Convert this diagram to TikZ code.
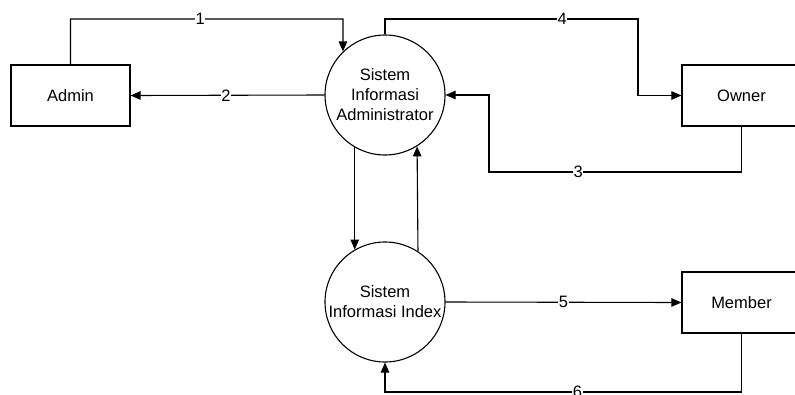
\documentclass[tikz,border=0pt]{standalone}
\usepackage{fontspec}
\setmainfont{Liberation Sans}
\usetikzlibrary{arrows.meta}
\begin{document}
\begin{tikzpicture}[x=1pt,y=-1pt,
  every node/.style={font=\fontsize{16.5}{20}\selectfont},
  ent/.style={draw, line width=1.2pt, minimum width=119pt, minimum height=61pt, inner sep=0pt},
  proc/.style={draw, circle, line width=1.1pt, minimum size=120pt, inner sep=0pt, align=center},
  flow/.style={line width=1.1pt, -{Triangle[length=10pt,width=8.5pt]}},
  lbl/.style={fill=white, inner sep=0.5pt}]
\useasboundingbox (0,0) rectangle (795,394);
\clip (0,0) rectangle (795,394);
% nodes
\node[ent] (admin) at (70.5,95.5) {Admin};
\node[ent] (owner) at (741.5,95.5) {Owner};
\node[ent] (member) at (741.5,302.5) {Member};
\node[proc] (sia) at (385,95) {Sistem\\Informasi\\Administrator};
\node[proc] (sii) at (385,302) {Sistem\\Informasi Index};
% helper coordinates
\coordinate (k1) at (343,19);
\coordinate (k4) at (638,19);
\coordinate (k3a) at (741.5,172);
\coordinate (k3b) at (489,172);
\coordinate (k6a) at (741.5,392);
\coordinate (k6b) at (385,392);
% connectors
\draw[flow] (admin.north) -- (admin.north |- k1) -- node[lbl,pos=0.476]{1} (k1) -- (sia.134.4);
\draw[flow] (sia.west) -- node[lbl,pos=0.508]{2} (admin.east);
\draw[flow] (sia.north) -- (sia.north |- k4) -- node[lbl,pos=0.7]{4} (k4) -- (k4 |- owner.west) -- (owner.west);
\draw[flow] (owner.south) -- (k3a) -- node[lbl,pos=0.647]{3} (k3b) -- (k3b |- sia.east) -- (sia.east);
\draw[flow] (sia.240) -- (sii.120);
\draw[flow] (sii.57.8) -- (sia.302.2);
\draw[flow] (sii.east) -- node[lbl,pos=0.5]{5} (member.west);
\draw[flow] (member.south) -- (k6a) -- node[lbl,pos=0.46]{6} (k6b) -- (sii.south);
\end{tikzpicture}
\end{document}
